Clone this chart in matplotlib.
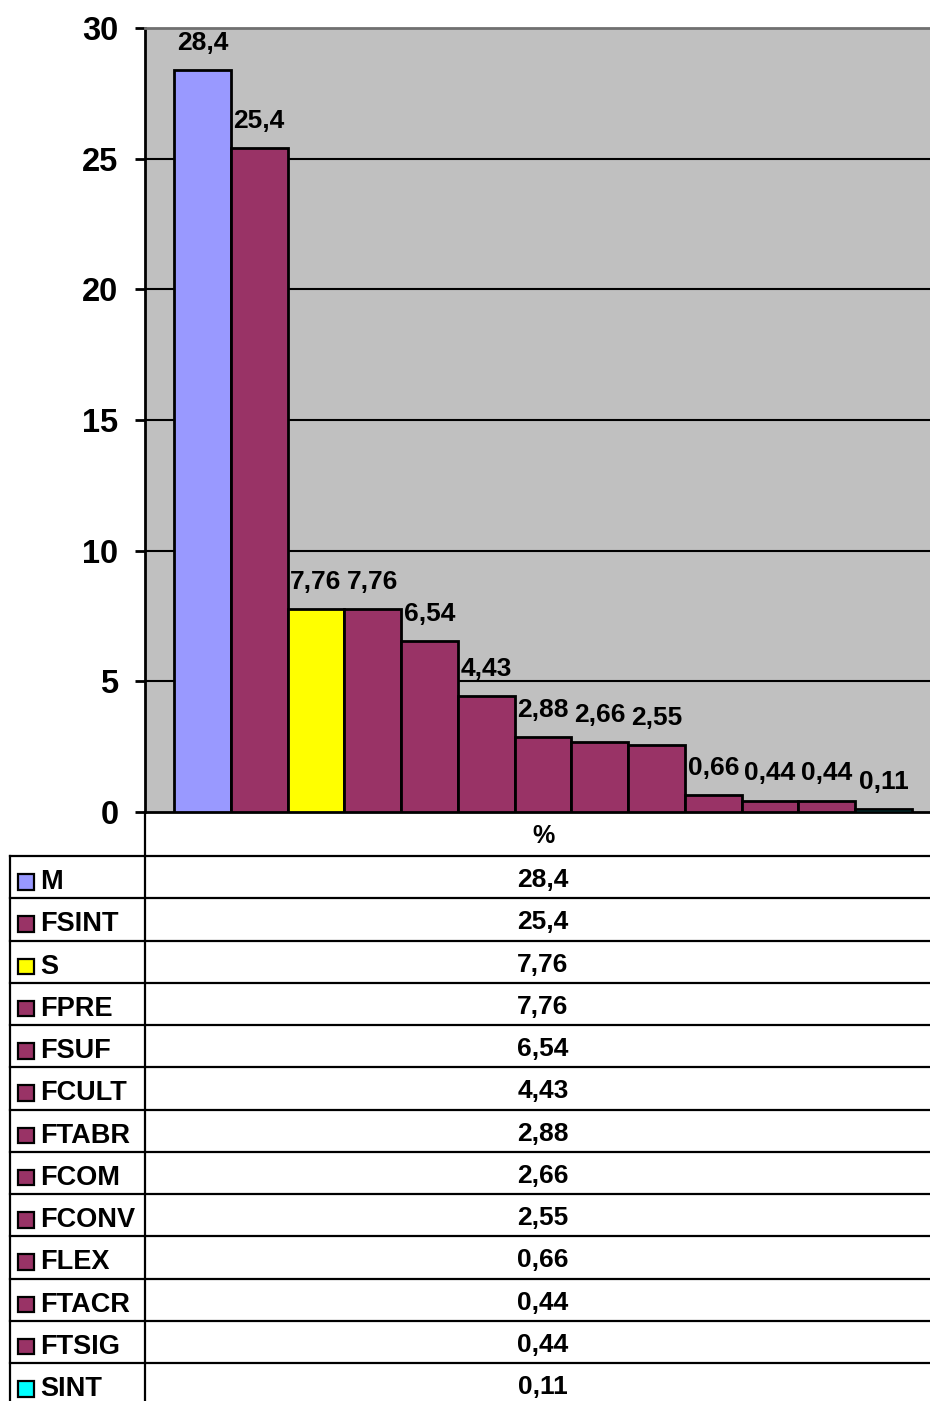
import matplotlib
matplotlib.use("Agg")
import matplotlib.pyplot as plt
from matplotlib.patches import Rectangle
import numpy as np

plt.rcParams['font.family'] = ['Liberation Sans', 'DejaVu Sans']
plt.rcParams['font.weight'] = 'bold'

categories = ["M", "FSINT", "S", "FPRE", "FSUF", "FCULT", "FTABR", "FCOM",
              "FCONV", "FLEX", "FTACR", "FTSIG", "SINT"]
values = [28.4, 25.4, 7.76, 7.76, 6.54, 4.43, 2.88, 2.66, 2.55, 0.66, 0.44, 0.44, 0.11]
labels = ["28,4", "25,4", "7,76", "7,76", "6,54", "4,43", "2,88", "2,66", "2,55",
          "0,66", "0,44", "0,44", "0,11"]
colors = ["#9999FF", "#993366", "#FFFF00", "#993366", "#993366", "#993366", "#993366",
          "#993366", "#993366", "#993366", "#993366", "#993366", "#00FFFF"]
header = "%"
yticks = [0, 5, 10, 15, 20, 25, 30]

W, H = 930, 1401
fig = plt.figure(figsize=(W / 100, H / 100), dpi=100)

ax_l, ax_r, ax_t, ax_b = 145, 930, 28, 812
ax = fig.add_axes([ax_l / W, 1 - ax_b / H, (ax_r - ax_l) / W, (ax_b - ax_t) / H])
ax.set_facecolor("#C0C0C0")
ax.set_zorder(2)

unit = 56.77
xleft = -0.5 - (174 - ax_l) / unit
xright = xleft + (ax_r - ax_l) / unit
x = np.arange(len(values))
ax.bar(x, values, width=1.0, color=colors, edgecolor="black", linewidth=2, zorder=3)
ax.set_xlim(xleft, xright)
ax.set_ylim(0, 30)

for yv in yticks[1:-1]:
    ax.axhline(yv, color="black", linewidth=1.5, zorder=1)

for xi, v, lab in zip(x, values, labels):
    ax.annotate(lab, (xi, v), xytext=(0, 19.5), textcoords="offset points",
                ha="center", va="center", fontsize=19, fontweight="bold", zorder=4)

ax.set_yticks(yticks)
ax.set_yticklabels([str(t) for t in yticks], fontsize=23.5, fontweight="bold")
ax.tick_params(axis="y", direction="out", length=7, width=2, pad=12)
ax.set_xticks([])
ax.spines["right"].set_visible(False)
ax.spines["top"].set_color("#707070")
ax.spines["top"].set_linewidth(2)
ax.spines["left"].set_linewidth(2)
ax.spines["bottom"].set_linewidth(2)

# table in pixel coordinates
tab = fig.add_axes([0, 0, 1, 1])
tab.set_xlim(0, W)
tab.set_ylim(H, 0)
tab.axis("off")
tab.set_zorder(1)

row_h = 42.25
hdr_bottom = 856
lw = 1.6
tab.plot([ax_l, ax_l], [ax_b, H + 5], color="black", linewidth=lw)
tab.plot([10, 10], [hdr_bottom, H + 5], color="black", linewidth=lw)
tab.text(543, (ax_b + hdr_bottom) / 2 + 2, header, ha="center", va="center",
         fontsize=18, fontweight="bold")
for i, (cat, lab, col) in enumerate(zip(categories, labels, colors)):
    y0 = hdr_bottom + i * row_h
    tab.plot([10, W], [y0, y0], color="black", linewidth=lw)
    yc = y0 + row_h / 2 + 5
    tab.add_patch(Rectangle((18, yc - 8), 15.5, 15.5, facecolor=col,
                            edgecolor="black", linewidth=1.6))
    tab.text(40, yc, cat, ha="left", va="center", fontsize=19.5, fontweight="bold")
    tab.text(543, yc - 2, lab, ha="center", va="center", fontsize=19, fontweight="bold")

fig.savefig("out.png", dpi=100)
